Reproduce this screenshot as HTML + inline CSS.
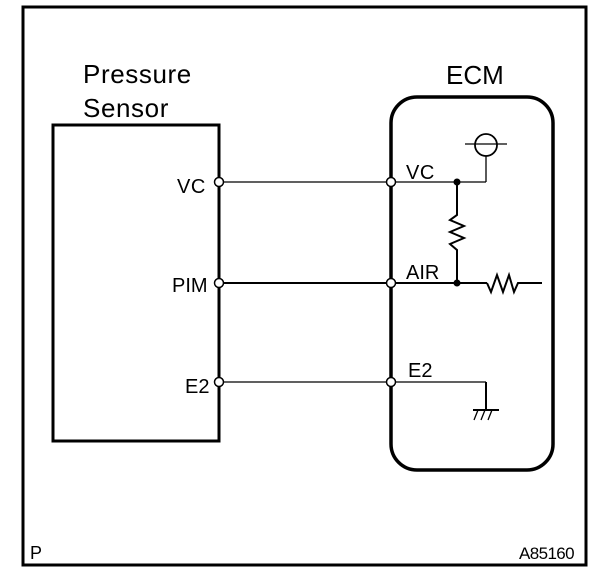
<!DOCTYPE html>
<html><head><style>body{margin:0;background:#fff}svg{display:block}text{font-family:"Liberation Sans",sans-serif;fill:#000}</style></head><body>
<svg width="608" height="576" viewBox="0 0 608 576">
<rect x="23" y="7" width="563" height="558" fill="none" stroke="#000" stroke-width="3"/>
<text x="83" y="83" font-size="26" letter-spacing="0.6">Pressure</text>
<text x="83" y="117" font-size="26" letter-spacing="0.6">Sensor</text>
<text x="446" y="84" font-size="26">ECM</text>
<rect x="53" y="125" width="166" height="316" fill="none" stroke="#000" stroke-width="3"/>
<rect x="391" y="97" width="162" height="373" rx="26" fill="none" stroke="#000" stroke-width="3.5"/>
<g stroke="#000" stroke-width="1.3" fill="none">
<line x1="219" y1="182" x2="391" y2="182"/>
<line x1="219" y1="283" x2="391" y2="283" stroke-width="2"/>
<line x1="219" y1="382" x2="391" y2="382"/>
<line x1="391" y1="182" x2="486" y2="182"/>
<line x1="486" y1="182" x2="486" y2="156"/>
<line x1="465" y1="144" x2="507" y2="144"/>
<line x1="391" y1="283" x2="487" y2="283" stroke-width="2"/>
<polyline points="487,283 491,292 497,275 503,292 509,275 514,292 518,283 542,283" stroke-width="2"/>
<polyline points="457,182 457,215 450,220 464,226 450,232 464,238 450,244 457,250 457,283" stroke-width="2"/>
<line x1="391" y1="382" x2="486" y2="382"/>
<line x1="486" y1="382" x2="486" y2="410" stroke-width="2"/>
<line x1="473" y1="410" x2="499" y2="410" stroke-width="2"/>
<line x1="478" y1="410" x2="474" y2="420"/><line x1="485" y1="410" x2="481" y2="420"/><line x1="492" y1="410" x2="488" y2="420"/>
</g>
<circle cx="486" cy="145" r="11" fill="none" stroke="#000" stroke-width="1.8"/>
<circle cx="457" cy="182" r="3.5"/><circle cx="457" cy="283" r="3.5"/>
<g fill="#fff" stroke="#000" stroke-width="1.5">
<circle cx="219" cy="182" r="4.5"/><circle cx="219" cy="283" r="4.5"/><circle cx="219" cy="382" r="4.5"/>
<circle cx="391" cy="182" r="4.5"/><circle cx="391" cy="283" r="4.5"/><circle cx="391" cy="382" r="4.5"/>
</g>
<text x="177" y="193" font-size="20" letter-spacing="0.5">VC</text>
<text x="172" y="292" font-size="20">PIM</text>
<text x="185" y="393" font-size="20">E2</text>
<text x="406" y="179" font-size="20" letter-spacing="0.5">VC</text>
<text x="406" y="279" font-size="20">AIR</text>
<text x="408" y="377" font-size="20">E2</text>
<text x="30" y="559" font-size="18">P</text>
<text x="519" y="559" font-size="17" letter-spacing="-0.6">A85160</text>
</svg>
</body></html>
